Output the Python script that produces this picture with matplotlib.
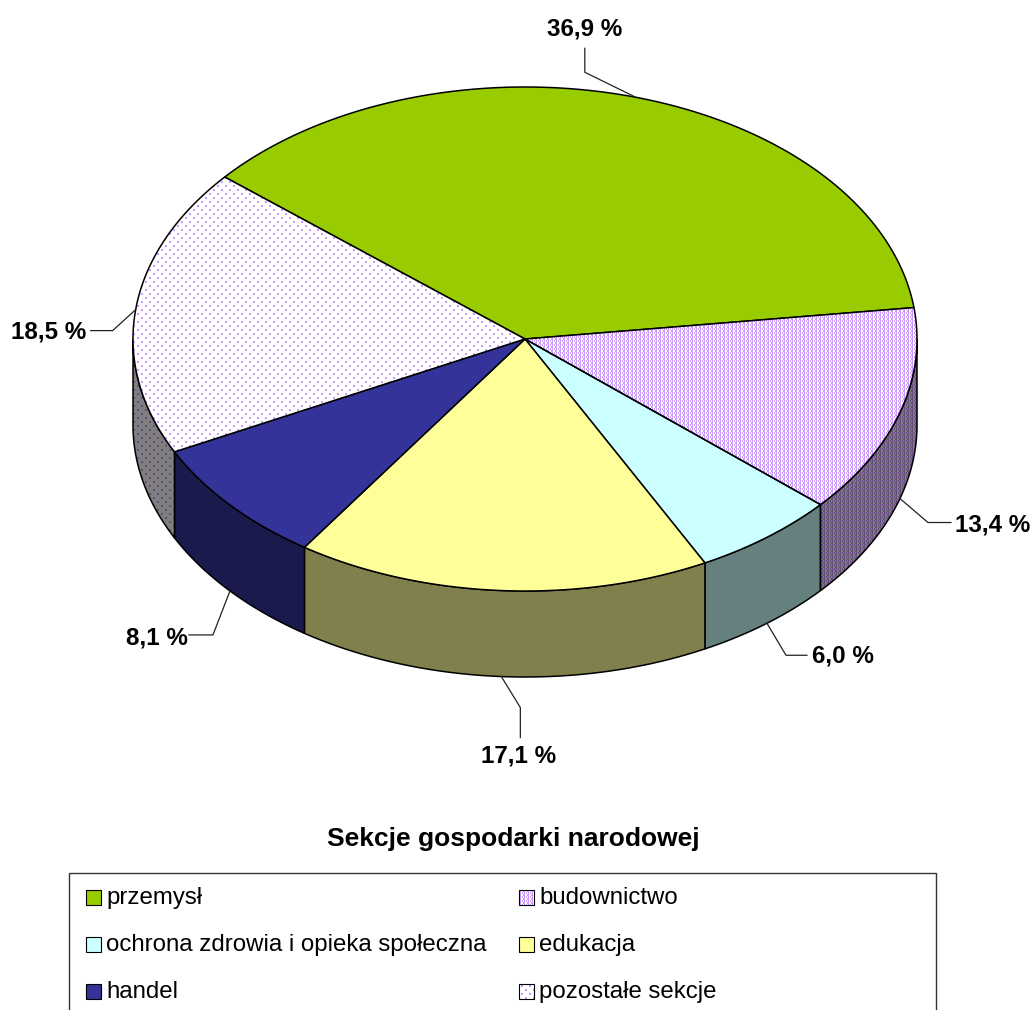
import numpy as np
import matplotlib
matplotlib.use("Agg")
import matplotlib.pyplot as plt
from matplotlib.patches import Polygon, Rectangle

plt.rcParams["font.family"] = ["Liberation Sans", "DejaVu Sans"]

# dane
sekcje = ["przemysł", "budownictwo", "ochrona zdrowia i opieka społeczna",
          "edukacja", "handel", "pozostałe sekcje"]
udzialy = [36.9, 13.4, 6.0, 17.1, 8.1, 18.5]
etykiety = ["36,9 %", "13,4 %", "6,0 %", "17,1 %", "8,1 %", "18,5 %"]
kolory = ["#99CC00", "#CC99FF", "#CCFFFF", "#FFFF99", "#333399", "#CC99FF"]
wzory = [None, "gesty", None, None, None, "rzadki"]

# uklad w pikselach
W, H = 1034, 1010
cx, cy, rx, ry, glebokosc = 525, 339, 392, 252, 86
kat_start = 140.0

# lamanie linii odniesienia (przesuniecia od punktu na kole) i pozycja tekstu
kolanka = [(-51, -25), (28, 24), (19, 32), (19, 31), (-17, 44), (-23, 21)]
konce = [(0, -24), (23, 0), (21, 0), (0, 30), (-24, 0), (-22, 0)]
teksty = [(585, 29, "center"), (955, 525, "left"), (812, 656, "left"),
          (519, 756, "center"), (188, 638, "right"), (86, 332, "right")]


def punkty(a1, a2, dz=0):
    t = np.radians(np.linspace(a1, a2, 200))
    return np.column_stack([cx + rx * np.cos(t), cy - ry * np.sin(t) + dz])


def tekstura(kolor, wzor, mnoznik=1.0):
    rgb = np.array(matplotlib.colors.to_rgb(kolor))
    if wzor == "gesty":
        tile = np.ones((4, 4, 3))
        tile[:, 0] = rgb
        tile[:2, 2] = rgb
        tile[2:, 3] = rgb
    else:
        tile = np.ones((8, 8, 3))
        tile[1:3, 1:3] = rgb
        tile[5:7, 5:7] = rgb
    obraz = np.tile(tile, (H // tile.shape[0] + 1, W // tile.shape[1] + 1, 1))
    return obraz[:H, :W] * mnoznik


def rysuj(ax, xy, kolor, wzor, mnoznik=1.0, lw=1.1, z=2):
    rgb = np.array(matplotlib.colors.to_rgb(kolor)) * mnoznik
    if wzor is None:
        ax.add_patch(Polygon(xy, closed=True, fc=rgb, ec="black", lw=lw, zorder=z))
        return
    p = Polygon(xy, closed=True, fc="none", ec="black", lw=lw, zorder=z + 0.1)
    ax.add_patch(p)
    im = ax.imshow(tekstura(kolor, wzor, mnoznik), extent=(0, W, H, 0),
                   interpolation="nearest", aspect="auto", zorder=z)
    im.set_clip_path(p)


fig = plt.figure(figsize=(W / 100, H / 100), dpi=100)
ax = fig.add_axes([0, 0, 1, 1])

granice = kat_start - np.cumsum([0] + udzialy) * 3.6

# boki i wierzch kola
for i in range(len(udzialy)):
    a1, a2 = granice[i], granice[i + 1]
    s1, s2 = min(a1, 0), max(a2, -180)
    if s1 > s2:
        gora = punkty(s1, s2)
        dol = punkty(s2, s1, glebokosc)
        rysuj(ax, np.vstack([gora, dol]), kolory[i], wzory[i], 0.5)
for i in range(len(udzialy)):
    a1, a2 = granice[i], granice[i + 1]
    rysuj(ax, np.vstack([[cx, cy], punkty(a1, a2)]), kolory[i], wzory[i], z=3)

# etykiety z liniami odniesienia
for i, tekst in enumerate(etykiety):
    srodek = (granice[i] + granice[i + 1]) / 2
    x0, y0 = punkty(srodek, srodek)[0]
    if np.sin(np.radians(srodek)) < 0:
        y0 += glebokosc
    x1, y1 = x0 + kolanka[i][0], y0 + kolanka[i][1]
    x2, y2 = x1 + konce[i][0], y1 + konce[i][1]
    ax.plot([x0, x1, x2], [y0, y1, y2], color="#222222", lw=0.9, zorder=4)
    tx, ty, ha = teksty[i]
    ax.text(tx, ty, tekst, fontsize=17.4, fontweight="bold", ha=ha, va="center")

# tytul i legenda
ax.text(513, 839, "Sekcje gospodarki narodowej", fontsize=19, fontweight="bold",
        ha="center", va="center")
ax.add_patch(Rectangle((69, 873), 867, 200, fc="white", ec="#333333", lw=1.0, zorder=1))
for i, nazwa in enumerate(sekcje):
    x = 86 if i % 2 == 0 else 519
    y = 890 + 47 * (i // 2)
    kwadrat = [(x, y), (x + 15, y), (x + 15, y + 15), (x, y + 15)]
    rysuj(ax, kwadrat, kolory[i], wzory[i], lw=0.8, z=3)
    ax.text(x + 20, y + 8, nazwa, fontsize=17.3, ha="left", va="center")

ax.set_xlim(0, W)
ax.set_ylim(H, 0)
ax.axis("off")
fig.savefig("out.png", dpi=100, facecolor="white")
